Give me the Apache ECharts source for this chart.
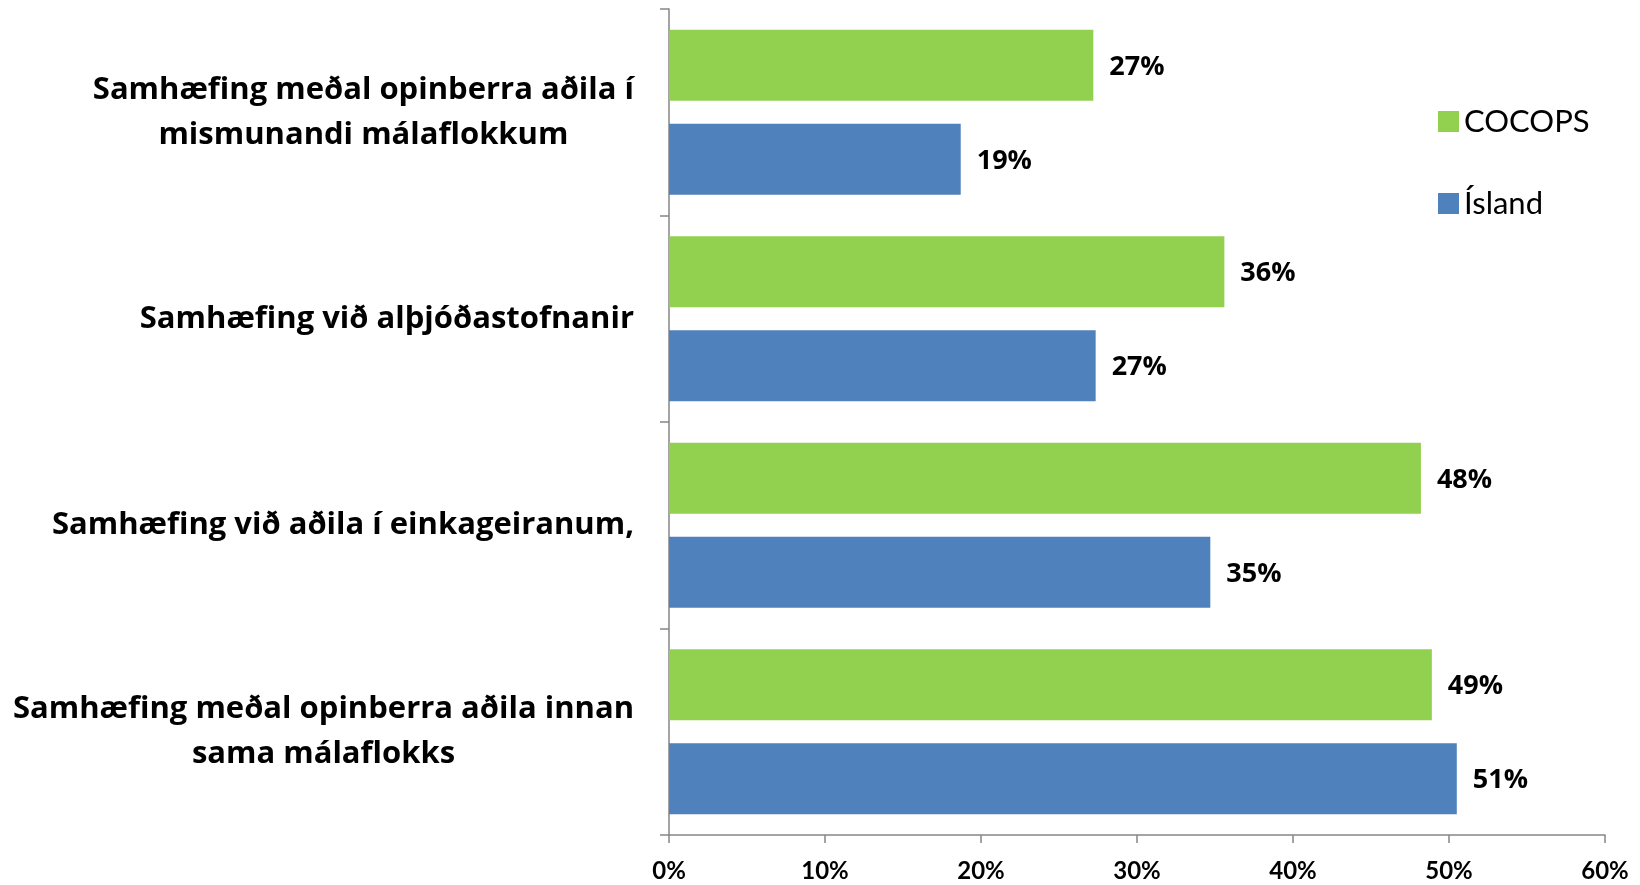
<!DOCTYPE html>
<html>
<head>
<meta charset="utf-8">
<script src="https://cdn.jsdelivr.net/npm/echarts@6/dist/echarts.min.js"></script>
<style>
  html, body { margin: 0; padding: 0; background: #fff; }
  #chart { width: 1640px; height: 885px; }
</style>
</head>
<body>
<div id="chart"></div>
<script>
var categories = [
  'Samhæfing meðal opinberra aðila í\nmismunandi málaflokkum',
  'Samhæfing við alþjóðastofnanir',
  'Samhæfing við aðila í einkageiranum,',
  'Samhæfing meðal opinberra aðila innan\nsama málaflokks'
];
var cocops = [27.2, 35.6, 48.2, 48.9];
var island = [18.7, 27.35, 34.7, 50.5];
var xTicks = { min: 0, max: 60, interval: 10 };

var font = 'Lato';
var boldFont = 'Open Sans';
var chart = echarts.init(document.getElementById('chart'));

var barLabel = {
  show: true,
  position: 'right',
  distance: 16,
  offset: [0, 2],
  color: '#000',
  fontFamily: boldFont,
  fontWeight: 'bold',
  fontSize: 27,
  formatter: function (p) { return Math.round(p.value) + '%'; }
};

chart.setOption({
  animation: false,
  textStyle: { fontFamily: font },
  grid: { left: 669, right: 35, top: 9, bottom: 50, containLabel: false },
  legend: {
    orient: 'vertical',
    left: 1433,
    top: 101,
    itemWidth: 21,
    itemHeight: 21,
    itemGap: 51,
    icon: 'rect',
    data: ['COCOPS', 'Ísland'],
    textStyle: { fontSize: 31, color: '#000', fontFamily: font }
  },
  xAxis: {
    type: 'value',
    min: xTicks.min,
    max: xTicks.max,
    interval: xTicks.interval,
    splitLine: { show: false },
    axisLine: { show: true, lineStyle: { color: '#868686', width: 1.5 } },
    axisTick: { show: true, length: 8, lineStyle: { color: '#868686', width: 1.5 } },
    axisLabel: {
      formatter: '{value}%',
      color: '#000',
      fontWeight: 'bold',
      fontSize: 24,
      margin: 24
    }
  },
  yAxis: {
    type: 'category',
    inverse: true,
    data: categories,
    axisLine: { show: true, lineStyle: { color: '#868686', width: 1.5 } },
    axisTick: { show: true, length: 9, lineStyle: { color: '#868686', width: 1.5 } },
    axisLabel: {
      margin: 35,
      formatter: function (v) {
        return v.split('\n').map(function (l) { return '{a|' + l + '}'; }).join('\n');
      },
      rich: {
        a: {
          align: 'center',
          fontFamily: boldFont,
          fontWeight: 'bold',
          fontSize: 31,
          lineHeight: 45,
          color: '#000'
        }
      }
    }
  },
  series: [
    {
      name: 'COCOPS',
      type: 'bar',
      data: cocops,
      barCategoryGap: '20%',
      barGap: '32%',
      itemStyle: { color: '#92D050' },
      label: barLabel
    },
    {
      name: 'Ísland',
      type: 'bar',
      data: island,
      itemStyle: { color: '#4F81BD' },
      label: barLabel
    }
  ]
});
</script>
</body>
</html>
